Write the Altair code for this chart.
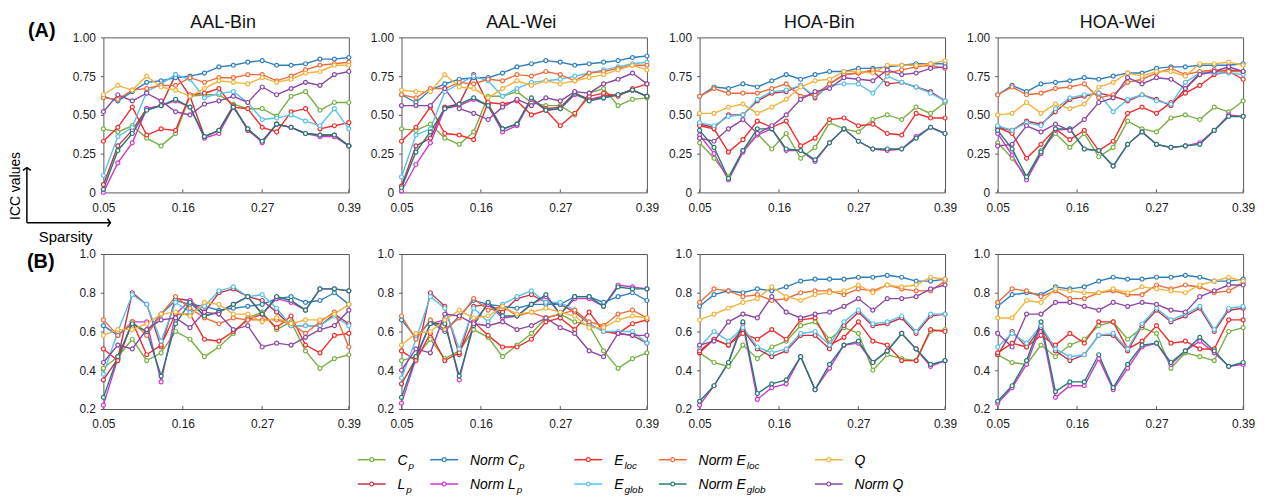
import altair as alt
import pandas as pd

# ---------------- data ----------------
SPARSITY = [0.05, 0.07, 0.09, 0.11, 0.13, 0.15, 0.17, 0.19, 0.21,
            0.23, 0.25, 0.27, 0.29, 0.31, 0.33, 0.35, 0.37, 0.39]
SERIES = ["Cp", "Lp", "Norm Cp", "Norm Lp", "Eloc", "Eglob",
          "Norm Eloc", "Norm Eglob", "Q", "Norm Q"]
COLORS = ["#77B041", "#BF3347", "#2E7EBF", "#D534D5", "#F32B2B",
          "#58C0EE", "#EE6B37", "#207A70", "#F3B23B", "#8A45A5"]

X_TICKS = [0.05, 0.16, 0.27, 0.39]
Y_TICKS_A = [0, 0.25, 0.5, 0.75, 1.0]
Y_TICKS_B = [0.2, 0.4, 0.6, 0.8, 1.0]
TITLES = ["AAL-Bin", "AAL-Wei", "HOA-Bin", "HOA-Wei"]

A_AAL_BIN = {
    "Cp":         [0.41, 0.39, 0.43, 0.35, 0.30, 0.38, 0.62, 0.63, 0.63, 0.57, 0.54, 0.54, 0.49, 0.62, 0.65, 0.53, 0.58, 0.58],
    "Lp":         [0.05, 0.30, 0.40, 0.54, 0.56, 0.76, 0.62, 0.36, 0.40, 0.56, 0.40, 0.33, 0.44, 0.42, 0.38, 0.37, 0.37, 0.30],
    "Norm Cp":    [0.62, 0.59, 0.65, 0.71, 0.72, 0.74, 0.75, 0.77, 0.81, 0.82, 0.84, 0.85, 0.82, 0.82, 0.83, 0.86, 0.86, 0.87],
    "Norm Lp":    [0.00, 0.19, 0.32, 0.54, 0.56, 0.59, 0.55, 0.35, 0.38, 0.55, 0.41, 0.32, 0.44, 0.42, 0.38, 0.36, 0.36, 0.30],
    "Eloc":       [0.33, 0.42, 0.55, 0.37, 0.41, 0.40, 0.63, 0.64, 0.67, 0.55, 0.54, 0.42, 0.39, 0.52, 0.54, 0.41, 0.43, 0.45],
    "Eglob":      [0.11, 0.36, 0.42, 0.65, 0.70, 0.76, 0.73, 0.61, 0.64, 0.65, 0.58, 0.47, 0.48, 0.50, 0.46, 0.43, 0.54, 0.41],
    "Norm Eloc":  [0.61, 0.60, 0.66, 0.67, 0.69, 0.69, 0.74, 0.71, 0.74, 0.74, 0.76, 0.76, 0.72, 0.75, 0.79, 0.82, 0.83, 0.84],
    "Norm Eglob": [0.02, 0.27, 0.38, 0.53, 0.56, 0.60, 0.55, 0.36, 0.40, 0.55, 0.41, 0.33, 0.44, 0.42, 0.38, 0.37, 0.37, 0.30],
    "Q":          [0.63, 0.69, 0.66, 0.75, 0.68, 0.66, 0.62, 0.67, 0.72, 0.71, 0.70, 0.74, 0.71, 0.73, 0.77, 0.78, 0.82, 0.82],
    "Norm Q":     [0.52, 0.63, 0.59, 0.64, 0.59, 0.52, 0.50, 0.57, 0.59, 0.62, 0.58, 0.68, 0.63, 0.67, 0.71, 0.69, 0.76, 0.78],
}
A_AAL_WEI = {
    "Cp":         [0.41, 0.40, 0.44, 0.35, 0.31, 0.39, 0.62, 0.62, 0.65, 0.58, 0.56, 0.56, 0.50, 0.64, 0.67, 0.56, 0.60, 0.61],
    "Lp":         [0.04, 0.30, 0.35, 0.55, 0.57, 0.76, 0.57, 0.41, 0.44, 0.60, 0.54, 0.55, 0.64, 0.60, 0.62, 0.63, 0.66, 0.62],
    "Norm Cp":    [0.63, 0.58, 0.66, 0.70, 0.73, 0.74, 0.74, 0.77, 0.81, 0.83, 0.85, 0.84, 0.82, 0.83, 0.84, 0.85, 0.87, 0.88],
    "Norm Lp":    [0.01, 0.18, 0.32, 0.54, 0.56, 0.60, 0.56, 0.39, 0.43, 0.60, 0.53, 0.54, 0.63, 0.60, 0.61, 0.63, 0.66, 0.62],
    "Eloc":       [0.33, 0.42, 0.55, 0.38, 0.37, 0.34, 0.58, 0.57, 0.59, 0.50, 0.53, 0.43, 0.51, 0.62, 0.64, 0.62, 0.67, 0.70],
    "Eglob":      [0.10, 0.37, 0.41, 0.65, 0.70, 0.75, 0.72, 0.62, 0.67, 0.71, 0.72, 0.73, 0.75, 0.77, 0.79, 0.81, 0.83, 0.84],
    "Norm Eloc":  [0.63, 0.61, 0.67, 0.67, 0.71, 0.70, 0.73, 0.72, 0.76, 0.75, 0.78, 0.76, 0.72, 0.77, 0.78, 0.80, 0.82, 0.82],
    "Norm Eglob": [0.03, 0.26, 0.39, 0.54, 0.57, 0.61, 0.56, 0.41, 0.44, 0.61, 0.53, 0.54, 0.64, 0.59, 0.61, 0.63, 0.66, 0.62],
    "Q":          [0.66, 0.65, 0.65, 0.76, 0.68, 0.67, 0.61, 0.67, 0.72, 0.69, 0.72, 0.70, 0.72, 0.74, 0.76, 0.79, 0.82, 0.79],
    "Norm Q":     [0.56, 0.56, 0.56, 0.67, 0.54, 0.51, 0.47, 0.55, 0.60, 0.56, 0.61, 0.59, 0.65, 0.64, 0.70, 0.73, 0.77, 0.70],
}
A_HOA_BIN = {
    "Cp":         [0.32, 0.22, 0.10, 0.27, 0.38, 0.28, 0.38, 0.22, 0.29, 0.45, 0.41, 0.39, 0.47, 0.50, 0.47, 0.55, 0.51, 0.58],
    "Lp":         [0.44, 0.42, 0.50, 0.50, 0.59, 0.64, 0.65, 0.69, 0.61, 0.70, 0.76, 0.77, 0.78, 0.70, 0.71, 0.68, 0.65, 0.59],
    "Norm Cp":    [0.62, 0.68, 0.67, 0.70, 0.68, 0.72, 0.76, 0.73, 0.76, 0.78, 0.78, 0.80, 0.80, 0.81, 0.82, 0.83, 0.83, 0.83],
    "Norm Lp":    [0.37, 0.25, 0.08, 0.26, 0.37, 0.41, 0.27, 0.27, 0.20, 0.32, 0.41, 0.33, 0.28, 0.27, 0.28, 0.36, 0.42, 0.38],
    "Eloc":       [0.43, 0.41, 0.26, 0.34, 0.46, 0.42, 0.46, 0.30, 0.35, 0.47, 0.48, 0.43, 0.44, 0.38, 0.37, 0.51, 0.48, 0.48],
    "Eglob":      [0.45, 0.43, 0.49, 0.50, 0.60, 0.65, 0.66, 0.69, 0.62, 0.69, 0.70, 0.70, 0.64, 0.75, 0.71, 0.68, 0.64, 0.59],
    "Norm Eloc":  [0.62, 0.67, 0.64, 0.64, 0.64, 0.67, 0.70, 0.62, 0.63, 0.70, 0.76, 0.77, 0.79, 0.77, 0.79, 0.81, 0.82, 0.80],
    "Norm Eglob": [0.40, 0.29, 0.09, 0.27, 0.41, 0.41, 0.28, 0.27, 0.21, 0.32, 0.41, 0.33, 0.28, 0.28, 0.28, 0.35, 0.42, 0.38],
    "Q":          [0.51, 0.51, 0.55, 0.57, 0.51, 0.55, 0.60, 0.68, 0.72, 0.73, 0.78, 0.78, 0.77, 0.82, 0.82, 0.82, 0.83, 0.85],
    "Norm Q":     [0.35, 0.33, 0.41, 0.47, 0.38, 0.43, 0.50, 0.60, 0.65, 0.67, 0.74, 0.73, 0.72, 0.79, 0.76, 0.77, 0.80, 0.81],
}
A_HOA_WEI = {
    "Cp":         [0.32, 0.22, 0.10, 0.27, 0.38, 0.29, 0.38, 0.23, 0.29, 0.46, 0.41, 0.39, 0.48, 0.50, 0.47, 0.55, 0.52, 0.59],
    "Lp":         [0.42, 0.40, 0.46, 0.44, 0.52, 0.60, 0.62, 0.64, 0.62, 0.59, 0.63, 0.60, 0.56, 0.67, 0.77, 0.78, 0.79, 0.78],
    "Norm Cp":    [0.63, 0.69, 0.65, 0.70, 0.71, 0.72, 0.74, 0.73, 0.75, 0.77, 0.77, 0.80, 0.81, 0.81, 0.82, 0.82, 0.82, 0.83],
    "Norm Lp":    [0.38, 0.24, 0.08, 0.25, 0.40, 0.41, 0.28, 0.27, 0.17, 0.31, 0.39, 0.31, 0.29, 0.30, 0.32, 0.40, 0.50, 0.49],
    "Eloc":       [0.42, 0.38, 0.22, 0.31, 0.41, 0.34, 0.40, 0.27, 0.33, 0.51, 0.55, 0.51, 0.58, 0.64, 0.69, 0.76, 0.78, 0.73],
    "Eglob":      [0.43, 0.40, 0.45, 0.43, 0.54, 0.61, 0.63, 0.64, 0.52, 0.60, 0.63, 0.59, 0.57, 0.71, 0.77, 0.77, 0.77, 0.76],
    "Norm Eloc":  [0.63, 0.68, 0.63, 0.64, 0.67, 0.68, 0.70, 0.61, 0.63, 0.71, 0.73, 0.77, 0.80, 0.76, 0.78, 0.79, 0.78, 0.78],
    "Norm Eglob": [0.40, 0.28, 0.10, 0.26, 0.41, 0.41, 0.28, 0.27, 0.17, 0.31, 0.39, 0.31, 0.29, 0.30, 0.31, 0.40, 0.49, 0.49],
    "Q":          [0.50, 0.51, 0.58, 0.51, 0.57, 0.54, 0.57, 0.68, 0.71, 0.77, 0.75, 0.78, 0.78, 0.75, 0.83, 0.83, 0.84, 0.82],
    "Norm Q":     [0.30, 0.31, 0.43, 0.39, 0.44, 0.40, 0.47, 0.58, 0.61, 0.74, 0.70, 0.74, 0.73, 0.67, 0.76, 0.78, 0.81, 0.78],
}
B_AAL_BIN = {
    "Cp":         [0.41, 0.47, 0.56, 0.45, 0.49, 0.60, 0.56, 0.47, 0.52, 0.59, 0.67, 0.70, 0.61, 0.65, 0.50, 0.41, 0.46, 0.48],
    "Lp":         [0.35, 0.46, 0.80, 0.74, 0.52, 0.77, 0.76, 0.70, 0.80, 0.82, 0.78, 0.76, 0.70, 0.63, 0.63, 0.63, 0.69, 0.64],
    "Norm Cp":    [0.63, 0.58, 0.64, 0.60, 0.69, 0.76, 0.74, 0.73, 0.71, 0.72, 0.73, 0.74, 0.77, 0.78, 0.75, 0.76, 0.80, 0.74],
    "Norm Lp":    [0.22, 0.46, 0.65, 0.65, 0.34, 0.69, 0.76, 0.68, 0.70, 0.74, 0.78, 0.69, 0.77, 0.75, 0.71, 0.82, 0.82, 0.81],
    "Eloc":       [0.51, 0.45, 0.65, 0.48, 0.53, 0.69, 0.69, 0.56, 0.55, 0.60, 0.66, 0.69, 0.62, 0.68, 0.53, 0.49, 0.58, 0.59],
    "Eglob":      [0.38, 0.60, 0.79, 0.74, 0.55, 0.75, 0.70, 0.73, 0.81, 0.83, 0.78, 0.79, 0.72, 0.63, 0.63, 0.63, 0.68, 0.63],
    "Norm Eloc":  [0.66, 0.58, 0.65, 0.58, 0.69, 0.78, 0.72, 0.67, 0.64, 0.67, 0.66, 0.66, 0.66, 0.64, 0.59, 0.65, 0.70, 0.52],
    "Norm Eglob": [0.26, 0.47, 0.64, 0.60, 0.37, 0.64, 0.75, 0.68, 0.70, 0.74, 0.78, 0.69, 0.78, 0.76, 0.71, 0.82, 0.82, 0.81],
    "Q":          [0.58, 0.61, 0.61, 0.64, 0.69, 0.70, 0.68, 0.75, 0.74, 0.69, 0.69, 0.65, 0.67, 0.64, 0.66, 0.66, 0.69, 0.74],
    "Norm Q":     [0.44, 0.53, 0.51, 0.61, 0.66, 0.67, 0.62, 0.70, 0.69, 0.61, 0.63, 0.52, 0.54, 0.53, 0.57, 0.61, 0.63, 0.71],
}
B_AAL_WEI = {
    "Cp":         [0.45, 0.47, 0.56, 0.46, 0.50, 0.61, 0.57, 0.47, 0.53, 0.59, 0.67, 0.69, 0.65, 0.63, 0.50, 0.41, 0.46, 0.49],
    "Lp":         [0.33, 0.46, 0.80, 0.73, 0.48, 0.73, 0.74, 0.70, 0.77, 0.79, 0.75, 0.74, 0.70, 0.64, 0.60, 0.59, 0.58, 0.54],
    "Norm Cp":    [0.66, 0.57, 0.65, 0.60, 0.68, 0.76, 0.74, 0.73, 0.72, 0.74, 0.74, 0.74, 0.78, 0.78, 0.75, 0.78, 0.80, 0.76],
    "Norm Lp":    [0.23, 0.46, 0.64, 0.66, 0.35, 0.65, 0.74, 0.67, 0.68, 0.74, 0.78, 0.69, 0.77, 0.77, 0.73, 0.84, 0.83, 0.82],
    "Eloc":       [0.50, 0.45, 0.59, 0.45, 0.49, 0.65, 0.58, 0.52, 0.52, 0.56, 0.65, 0.67, 0.61, 0.70, 0.60, 0.59, 0.64, 0.66],
    "Eglob":      [0.36, 0.56, 0.78, 0.72, 0.51, 0.72, 0.65, 0.74, 0.78, 0.81, 0.75, 0.75, 0.71, 0.64, 0.60, 0.60, 0.60, 0.54],
    "Norm Eloc":  [0.68, 0.56, 0.66, 0.61, 0.67, 0.77, 0.71, 0.73, 0.68, 0.70, 0.67, 0.69, 0.71, 0.65, 0.63, 0.69, 0.71, 0.67],
    "Norm Eglob": [0.26, 0.47, 0.64, 0.64, 0.37, 0.63, 0.75, 0.68, 0.68, 0.74, 0.79, 0.69, 0.78, 0.78, 0.73, 0.83, 0.82, 0.82],
    "Q":          [0.53, 0.59, 0.60, 0.66, 0.71, 0.67, 0.68, 0.73, 0.69, 0.70, 0.72, 0.70, 0.68, 0.62, 0.62, 0.66, 0.68, 0.67],
    "Norm Q":     [0.40, 0.51, 0.49, 0.69, 0.68, 0.64, 0.63, 0.65, 0.61, 0.63, 0.67, 0.62, 0.59, 0.50, 0.47, 0.59, 0.58, 0.58],
}
B_HOA_BIN = {
    "Cp":         [0.49, 0.44, 0.42, 0.53, 0.46, 0.52, 0.55, 0.63, 0.65, 0.56, 0.62, 0.59, 0.40, 0.48, 0.46, 0.45, 0.60, 0.61],
    "Lp":         [0.49, 0.56, 0.53, 0.61, 0.51, 0.47, 0.50, 0.58, 0.58, 0.51, 0.63, 0.70, 0.63, 0.64, 0.67, 0.59, 0.68, 0.69],
    "Norm Cp":    [0.73, 0.79, 0.81, 0.80, 0.82, 0.81, 0.83, 0.86, 0.87, 0.87, 0.87, 0.88, 0.88, 0.89, 0.88, 0.86, 0.86, 0.87],
    "Norm Lp":    [0.22, 0.32, 0.44, 0.64, 0.25, 0.31, 0.33, 0.47, 0.30, 0.41, 0.53, 0.54, 0.44, 0.50, 0.59, 0.51, 0.42, 0.45],
    "Eloc":       [0.50, 0.56, 0.53, 0.59, 0.56, 0.61, 0.56, 0.66, 0.67, 0.53, 0.57, 0.65, 0.55, 0.53, 0.45, 0.45, 0.61, 0.60],
    "Eglob":      [0.52, 0.60, 0.55, 0.62, 0.52, 0.49, 0.51, 0.59, 0.60, 0.53, 0.65, 0.71, 0.64, 0.65, 0.68, 0.60, 0.69, 0.69],
    "Norm Eloc":  [0.75, 0.82, 0.81, 0.78, 0.79, 0.76, 0.77, 0.80, 0.81, 0.81, 0.79, 0.82, 0.81, 0.84, 0.82, 0.81, 0.81, 0.86],
    "Norm Eglob": [0.24, 0.32, 0.44, 0.65, 0.28, 0.33, 0.35, 0.47, 0.30, 0.43, 0.53, 0.55, 0.44, 0.50, 0.59, 0.51, 0.43, 0.45],
    "Q":          [0.66, 0.69, 0.72, 0.75, 0.77, 0.83, 0.78, 0.76, 0.79, 0.80, 0.81, 0.84, 0.80, 0.84, 0.83, 0.84, 0.88, 0.87],
    "Norm Q":     [0.53, 0.55, 0.65, 0.69, 0.67, 0.78, 0.70, 0.67, 0.69, 0.70, 0.73, 0.77, 0.71, 0.77, 0.77, 0.78, 0.82, 0.84],
}
B_HOA_WEI = {
    "Cp":         [0.48, 0.44, 0.43, 0.53, 0.47, 0.53, 0.56, 0.63, 0.65, 0.56, 0.62, 0.59, 0.41, 0.49, 0.47, 0.45, 0.60, 0.62],
    "Lp":         [0.48, 0.60, 0.52, 0.62, 0.50, 0.45, 0.48, 0.58, 0.58, 0.50, 0.63, 0.71, 0.65, 0.68, 0.72, 0.60, 0.71, 0.72],
    "Norm Cp":    [0.73, 0.79, 0.80, 0.79, 0.83, 0.82, 0.83, 0.86, 0.88, 0.87, 0.87, 0.88, 0.88, 0.89, 0.88, 0.86, 0.86, 0.87],
    "Norm Lp":    [0.23, 0.31, 0.43, 0.63, 0.26, 0.32, 0.32, 0.46, 0.30, 0.41, 0.52, 0.54, 0.43, 0.50, 0.55, 0.49, 0.42, 0.43],
    "Eloc":       [0.49, 0.54, 0.52, 0.58, 0.53, 0.59, 0.54, 0.65, 0.65, 0.51, 0.55, 0.63, 0.54, 0.55, 0.51, 0.51, 0.66, 0.66],
    "Eglob":      [0.52, 0.59, 0.54, 0.63, 0.51, 0.47, 0.48, 0.58, 0.59, 0.51, 0.64, 0.72, 0.66, 0.69, 0.73, 0.61, 0.72, 0.73],
    "Norm Eloc":  [0.75, 0.82, 0.81, 0.78, 0.81, 0.77, 0.77, 0.80, 0.81, 0.79, 0.79, 0.84, 0.82, 0.84, 0.83, 0.80, 0.81, 0.85],
    "Norm Eglob": [0.24, 0.32, 0.45, 0.65, 0.29, 0.34, 0.34, 0.48, 0.31, 0.43, 0.53, 0.54, 0.44, 0.50, 0.57, 0.50, 0.42, 0.44],
    "Q":          [0.67, 0.67, 0.76, 0.75, 0.82, 0.81, 0.80, 0.80, 0.82, 0.80, 0.83, 0.82, 0.81, 0.80, 0.84, 0.86, 0.88, 0.86],
    "Norm Q":     [0.59, 0.52, 0.69, 0.69, 0.75, 0.75, 0.73, 0.71, 0.75, 0.73, 0.75, 0.74, 0.71, 0.70, 0.78, 0.81, 0.84, 0.84],
}

# legend labels (main text + subscript)
LEG_MAIN = ["C", "L", "Norm C", "Norm L", "E", "E", "Norm E", "Norm E", "Q", "Norm Q"]
LEG_SUB = ["p", "p", "p", "p", "loc", "glob", "loc", "glob", "", ""]
LEG_COL = [0, 0, 1, 1, 2, 2, 3, 3, 4, 4]
LEG_ROW = [0, 1, 0, 1, 0, 1, 0, 1, 0, 1]

# ---------------- layout / style ----------------
FONT = "Liberation Sans"
W, H = 247, 156
FRAME = "#5a5a5a"
LEG_COL_X = [256, 329, 474, 559, 716]
LEG_ROW_Y = [-11, 13.5]
LEG_LINE = 28
LEG_GAP = 12
LEG_FS, LEG_SUB_FS = 14, 10
ARIAL_W = {"N": .722, "o": .556, "r": .333, "m": .833, " ": .278,
           "C": .722, "L": .556, "E": .667, "Q": .778}


def text_width(s, fs):
    return sum(ARIAL_W.get(c, .556) for c in s) * fs


def panel_df(values):
    rows = []
    for name in SERIES:
        for s, v in zip(SPARSITY, values[name]):
            rows.append({"sparsity": s, "icc": v, "series": name})
    return pd.DataFrame(rows)


ONE = pd.DataFrame({"a": [0]})
TICK_DF = pd.DataFrame({"sparsity": X_TICKS})


def note(text, x, y, **kw):
    kw.setdefault("color", "black")
    return alt.Chart(pd.DataFrame({"t": [text]})).mark_text(
        font=FONT, **kw
    ).encode(x=alt.value(x), y=alt.value(y), text="t:N")


def panel(values, row, title=None, extras=()):
    df = panel_df(values)
    if row == "A":
        ydom, yticks = [0, 1], Y_TICKS_A
        ylab = "datum.value == 0 ? '0' : format(datum.value, '.2f')"
    else:
        ydom, yticks = [0.2, 1.0], Y_TICKS_B
        ylab = "format(datum.value, '.1f')"
    xenc = alt.X("sparsity:Q",
                 scale=alt.Scale(domain=[0.05, 0.39], nice=False, zero=False),
                 axis=alt.Axis(values=X_TICKS, format=".2f", title=None,
                               labelFlush=False, ticks=False, labelPadding=10))
    base = alt.Chart(df).encode(
        x=xenc,
        y=alt.Y("icc:Q",
                scale=alt.Scale(domain=ydom, nice=False, zero=False),
                axis=alt.Axis(values=yticks, labelExpr=ylab, title=None)),
        color=alt.Color("series:N",
                        scale=alt.Scale(domain=SERIES, range=COLORS),
                        legend=None),
    )
    # inward x ticks (drawn through the x scale)
    xticks = alt.Chart(TICK_DF).mark_rule(color=FRAME, strokeWidth=1).encode(
        x=alt.X("sparsity:Q"), y=alt.value(H - 3), y2=alt.value(H))
    lines = base.mark_line(strokeWidth=1.4)
    pts = base.mark_point(shape="circle", filled=False, fill="white",
                          fillOpacity=1, opacity=1, size=16, strokeWidth=1.2)
    layers = [xticks, lines, pts] + list(extras)
    if title:
        layers.append(note(title, W / 2 - 3, -9.5, fontSize=18, align="center",
                           baseline="alphabetic", color="#111111"))
    return alt.layer(*layers).properties(width=W, height=H)


# annotations of the first panel of each row
vline = alt.Chart(ONE).mark_rule(color="black", strokeWidth=1.5).encode(
    x=alt.value(-77), y=alt.value(131), y2=alt.value(186.5))
hline = alt.Chart(ONE).mark_rule(color="black", strokeWidth=1.5).encode(
    x=alt.value(-77), x2=alt.value(7), y=alt.value(186.5))
uphead = alt.Chart(ONE).mark_point(
    shape="M-1,0.7L0,0L1,0.7", filled=False, color="black", strokeWidth=1.5,
    size=64, opacity=1).encode(x=alt.value(-77), y=alt.value(131))
righthead = alt.Chart(ONE).mark_point(
    shape="M-0.7,-1L0,0L-0.7,1", filled=False, color="black", strokeWidth=1.5,
    size=64, opacity=1).encode(x=alt.value(7), y=alt.value(186.5))
extras_a = [
    note("(A)", -62, -6.5, fontSize=20, fontWeight="bold", align="center", baseline="middle"),
    note("ICC values", -88, 149.5, fontSize=14, angle=270, align="center", baseline="middle"),
    note("Sparsity", -38, 200.5, fontSize=15, align="center", baseline="middle"),
    vline, hline, uphead, righthead,
]
extras_b = [
    note("(B)", -63, 8, fontSize=20, fontWeight="bold", align="center", baseline="middle"),
]

A_PANELS = [A_AAL_BIN, A_AAL_WEI, A_HOA_BIN, A_HOA_WEI]
B_PANELS = [B_AAL_BIN, B_AAL_WEI, B_HOA_BIN, B_HOA_WEI]

charts = []
for i, vals in enumerate(A_PANELS):
    charts.append(panel(vals, "A", TITLES[i], extras_a if i == 0 else ()))
for i, vals in enumerate(B_PANELS):
    charts.append(panel(vals, "B", None, extras_b if i == 0 else ()))

# ---------------- legend ----------------
leg_rows = []
for k, name in enumerate(SERIES):
    x0 = LEG_COL_X[LEG_COL[k]]
    xt = x0 + LEG_LINE + LEG_GAP
    leg_rows.append({
        "series": name, "main": LEG_MAIN[k], "sub": LEG_SUB[k],
        "x0": x0, "x1": x0 + LEG_LINE, "xm": x0 + LEG_LINE / 2,
        "xt": xt, "xs": xt + text_width(LEG_MAIN[k], LEG_FS) + 1,
        "y": LEG_ROW_Y[LEG_ROW[k]],
    })
leg_df = pd.DataFrame(leg_rows)
leg_color = alt.Color("series:N", scale=alt.Scale(domain=SERIES, range=COLORS), legend=None)
leg_y = alt.Y("y:Q", scale=None, axis=None)
leg_base = alt.Chart(leg_df)
leg_rule = leg_base.mark_rule(strokeWidth=1.5).encode(
    x=alt.X("x0:Q", scale=None, axis=None), x2="x1:Q", y=leg_y, color=leg_color)
leg_pt = leg_base.mark_point(shape="circle", filled=False, fill="white", fillOpacity=1,
                             opacity=1, size=16, strokeWidth=1.2).encode(
    x=alt.X("xm:Q", scale=None, axis=None), y=leg_y, color=leg_color)
leg_main = leg_base.mark_text(align="left", baseline="alphabetic", dy=5, font=FONT,
                              fontSize=LEG_FS, fontStyle="italic", color="black").encode(
    x=alt.X("xt:Q", scale=None, axis=None), y=leg_y, text="main:N")
leg_sub = leg_base.mark_text(align="left", baseline="alphabetic", dy=9, font=FONT,
                             fontSize=LEG_SUB_FS, fontStyle="italic", color="black").encode(
    x=alt.X("xs:Q", scale=None, axis=None), y=leg_y, text="sub:N")
legend = alt.layer(leg_rule, leg_pt, leg_main, leg_sub).properties(
    width=W, height=20, view=alt.ViewBackground(stroke="transparent"))

chart = alt.concat(
    *charts, legend, columns=4, spacing={"row": 62, "column": 53}, bounds="flush"
).resolve_scale(
    x="independent", y="independent"
).properties(
    padding={"left": 0, "top": 4, "right": 5, "bottom": 5}
).configure_view(
    stroke=FRAME, strokeWidth=1
).configure_axis(
    domain=False, grid=False, ticks=True, tickColor=FRAME, tickSize=3,
    labelFont=FONT, labelFontSize=12, labelColor="#1a1a1a", labelPadding=5,
)

chart.save("out.html", embed_options={"renderer": "svg", "actions": False})
